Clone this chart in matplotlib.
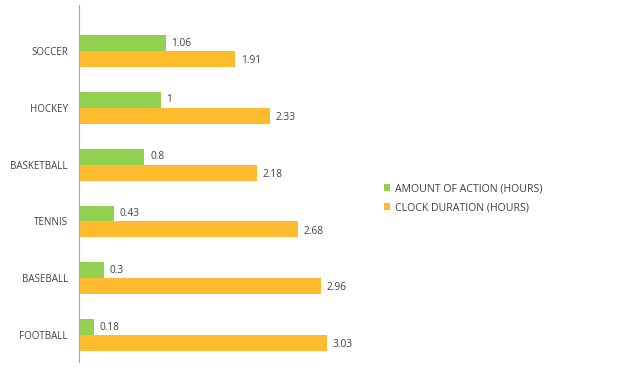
import numpy as np
import matplotlib
matplotlib.use("Agg")
import matplotlib.pyplot as plt

sports = ["SOCCER", "HOCKEY", "BASKETBALL", "TENNIS", "BASEBALL", "FOOTBALL"]
action = [1.06, 1, 0.8, 0.43, 0.3, 0.18]
clock = [1.91, 2.33, 2.18, 2.68, 2.96, 3.03]

plt.rcParams['font.family'] = ['Open Sans', 'DejaVu Sans']

fig = plt.figure(figsize=(6.41, 3.92), dpi=100)
W, H = 641, 392
# axes spans x 79..350 px, y 5..362 px
ax = fig.add_axes([79 / W, 1 - 362 / H, 271 / W, 357 / H])

y = np.arange(len(sports))
h = 0.28
green = "#92D050"
orange = "#FDBB2D"
ax.barh(y - h / 2, action, height=h, color=green, label="AMOUNT OF ACTION (HOURS)")
ax.barh(y + h / 2, clock, height=h, color=orange, label="CLOCK DURATION (HOURS)")

for i in range(len(sports)):
    ax.text(action[i] + 0.07, y[i] - h / 2, f"{action[i]:g}", va="center",
            ha="left", fontsize=7.3, color="#404040")
    ax.text(clock[i] + 0.07, y[i] + h / 2 + 0.03, f"{clock[i]:g}", va="center",
            ha="left", fontsize=7.3, color="#404040")

ax.set_xlim(0, 271 / 81.8)
ax.set_ylim(len(sports) - 1 + 0.475, -0.81)
ax.set_yticks(y)
ax.set_yticklabels(sports, fontsize=7, color="#404040")
ax.tick_params(axis="y", length=0, pad=8)
ax.set_xticks([])
for s in ["top", "right", "bottom"]:
    ax.spines[s].set_visible(False)
ax.spines["left"].set_color("#A6A6A6")
ax.spines["left"].set_linewidth(0.8)

leg = fig.legend(loc="upper left", bbox_to_anchor=(374 / W, 1 - 174 / H),
                 frameon=False, fontsize=7.6, handlelength=0.6, handleheight=0.6,
                 handletextpad=0.5, labelspacing=0.75, labelcolor="#404040")

fig.savefig("out.png", dpi=100)
